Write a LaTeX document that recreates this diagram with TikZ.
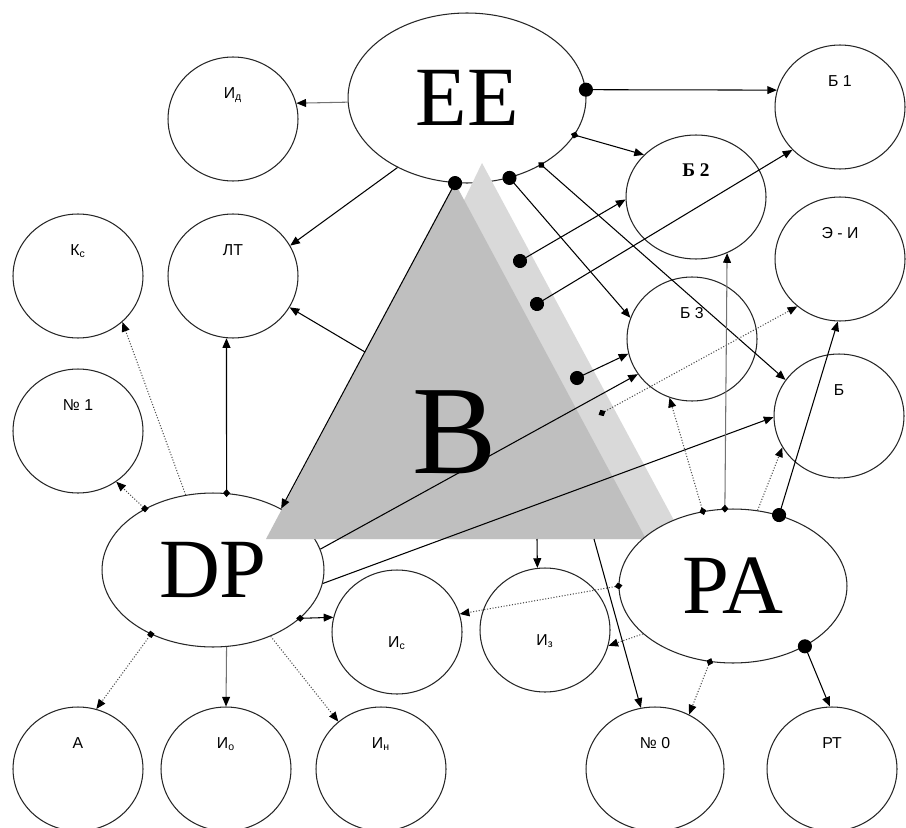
\documentclass[tikz,border=0pt]{standalone}
\usepackage{fontspec}
\setmainfont{Liberation Sans}
\newfontfamily\tnr{Liberation Serif}
\usetikzlibrary{arrows.meta,shapes.geometric}
\tikzset{
    ov/.style={ellipse,draw=black!85,fill=white,line width=.6pt,inner sep=0pt,minimum width=2.6cm,minimum height=2.48cm,font=\fontsize{9}{10}\selectfont},
    lblup/.style={text height=7pt,text depth=30pt},
    lbldn/.style={text height=20pt,text depth=2pt},
    main/.style={ellipse,draw=black!85,fill=white,line width=.6pt,inner sep=0pt,font=\tnr\fontsize{48}{50}\selectfont},
    pt/.style={{Circle[length=8pt,color=black]}->,shorten <=-4pt},
    dm/.style={{Diamond[length=4.5pt,width=4pt,color=black]}->,shorten <=-2.25pt},
    sq/.style={{Square[length=3pt,color=black]}->,shorten <=-1.5pt},
    dt/.style={densely dotted,black!70},
    gr/.style={black!55}
}
\begin{document}
\begin{tikzpicture}[x=0.02cm,y=-0.02cm,line width=.6pt,>={Triangle[length=5.5pt,width=4.5pt,color=black]}]
        \useasboundingbox(0,0)rectangle(906,828);
        \node[main,minimum width=4.76cm,minimum height=3.4cm](1)at(467,98){EE};
        \node[main,minimum width=4.44cm,minimum height=3.08cm](2)at(213,570){DP};
        \fill[black!15](482,163)--(684,539)--(300,539)--cycle;
        \fill[black!25](455,183)--(646,539)--(266,539)--cycle;
        \node[main,minimum width=4.56cm,minimum height=3.08cm](3)at(733,586){PA};
        \node[font=\tnr\fontsize{72}{75}\selectfont](20)at(455,432){B};
        \node[ov,lblup](4)at(233,119){И\textsubscript{д}};
        \node[ov,lblup](5)at(78,276){К\textsubscript{с}};
        \node[ov,lblup](6)at(233,276){ЛТ};
        \node[ov,lblup](7)at(78,431){№ 1};
        \node[ov,lbldn](8)at(397,632){И\textsubscript{с}};
        \node[ov,lbldn](9)at(545,630){И\textsubscript{з}};
        \node[ov,lblup](10)at(78,769){А};
        \node[ov,lblup](11)at(226,769){И\textsubscript{о}};
        \node[ov,lblup](12)at(381,769){И\textsubscript{н}};
        \node[ov,lblup,minimum width=2.76cm](13)at(655,769){№ 0};
        \node[ov,lblup](14)at(832,769){РТ};
        \node[ov,lblup](15)at(840,107){Б 1};
        \node[ov,lblup,minimum width=2.8cm,font=\tnr\bfseries\fontsize{11}{12}\selectfont](16)at(696,197){Б 2};
        \node[ov,lblup](17)at(840,259){Э - И};
        \node[ov,lblup](18)at(692,339){Б 3};
        \node[ov,lblup](19)at(839,416){Б};
        \coordinate(21)at(365,352);
        \coordinate(22)at(520,261);
        \coordinate(23)at(537,304);
        \coordinate(24)at(577,378);
        \coordinate(25)at(602,413);
        \coordinate(26)at(537,539);
        \coordinate(27)at(594,539);
        \draw[->,gr](1.182)--(4.14);
        \draw[->](1.225)--(6.28);
        \draw[pt](1.262)--(2.42);
        \draw[pt](1.4)--(15.165);
        \draw[dm](1.341)--(16.141);
        \draw[pt](1.298)--(18.161);
        \draw[dm](1.318)--(19.146);
        \draw[pt](22)--(16.182);
        \draw[pt](23)--(15.222);
        \draw[pt](24)--(18.193);
        \draw[dm,dt](25)--(17.228);
        \draw[->](2.11)--(18.213);
        \draw[->](2.353)--(19.181);
        \draw[dm](2.80)--(6.264);
        \draw[sq,dt](2.138)--(7.307);
        \draw[->,dt](2.110)--(5.314);
        \draw[->](21)--(6.331);
        \draw[dm](2.331)--(8.167);
        \draw[sq,dt](2.226)--(10.73);
        \draw[->,gr](2.280)--(11.90);
        \draw[->,dt](2.311)--(12.132);
        \draw[->](26)--(9.97);
        \draw[->](27)--(13.103);
        \draw[dm,dt](3.180)--(8.16);
        \draw[->,dt](3.208)--(9.346);
        \draw[dm,dt](3.253)--(13.58);
        \draw[pt](3.320)--(14.92);
        \draw[dm,gr](3.96)--(16.299);
        \draw[dm,dt](3.112)--(18.249);
        \draw[->,dt](3.72)--(19.209);
        \draw[pt](3.57)--(17.268);
    \end{tikzpicture}
\end{document}
